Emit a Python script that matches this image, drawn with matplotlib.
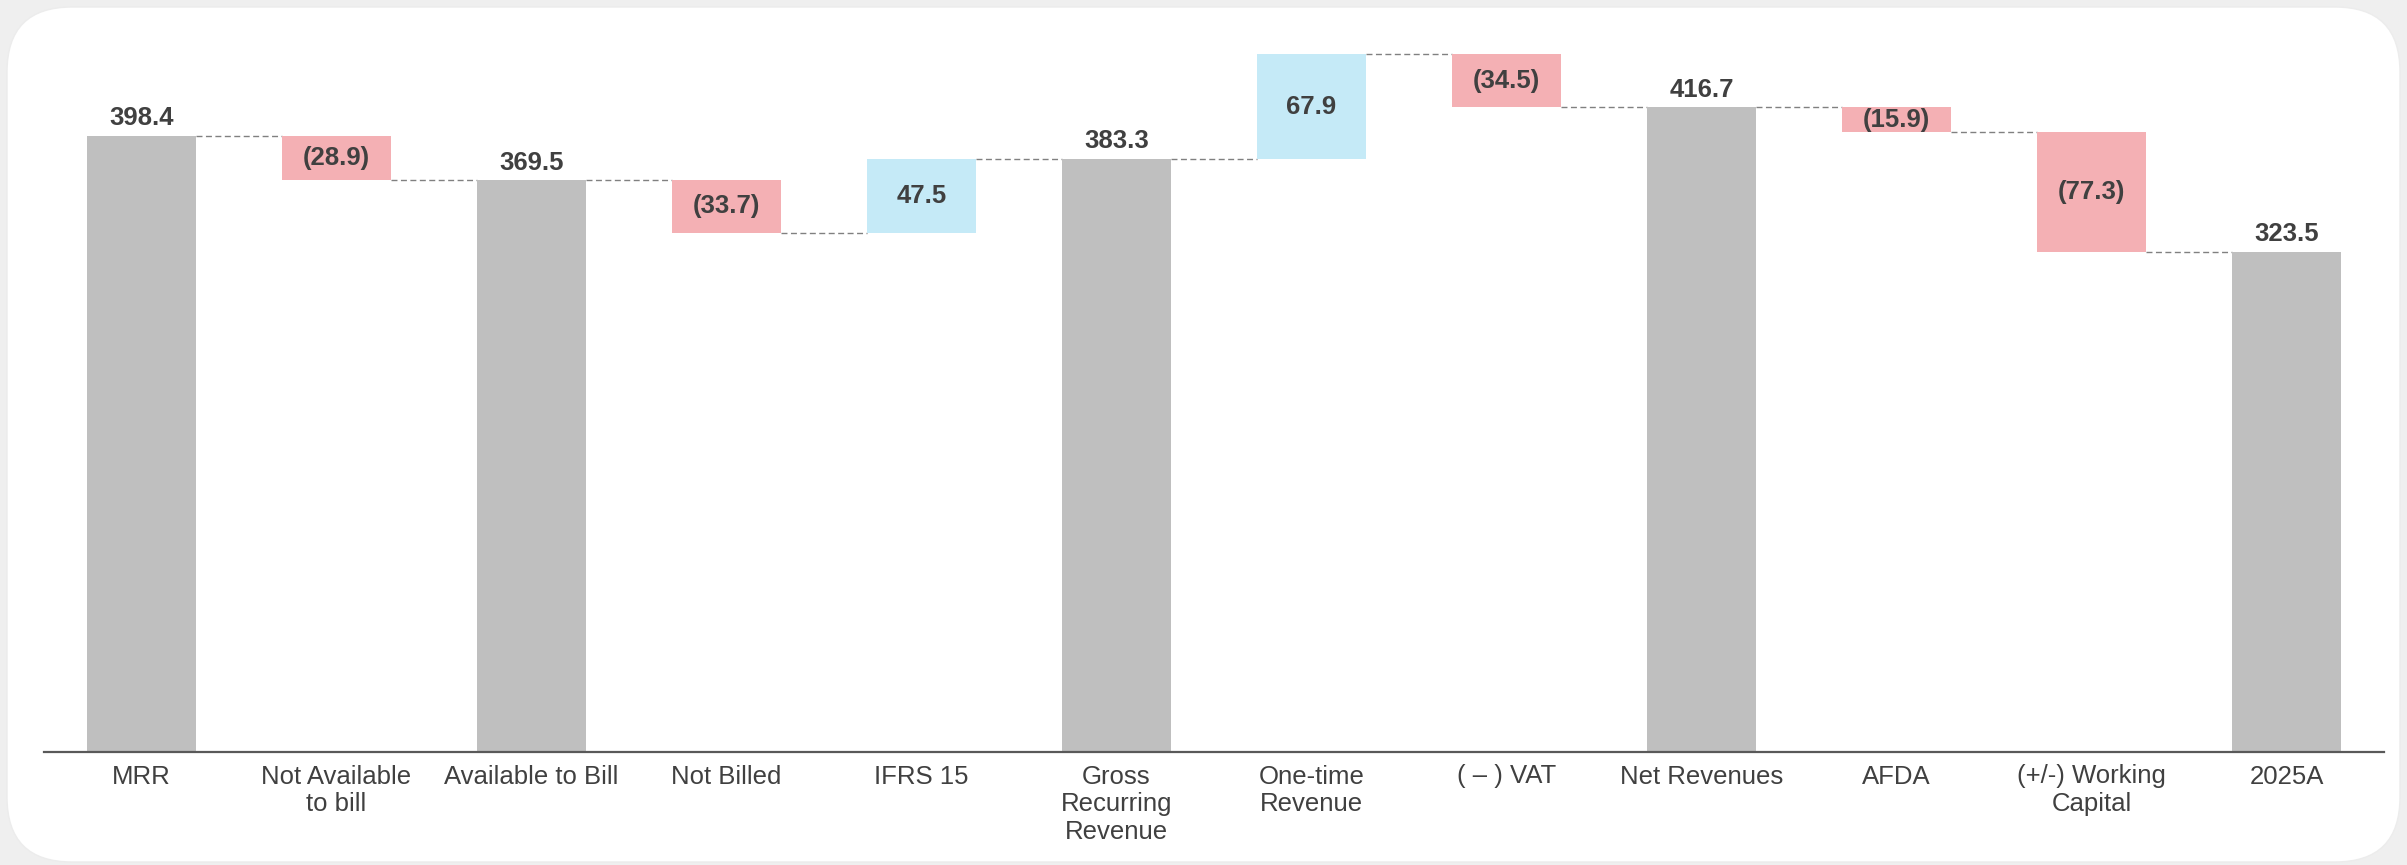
import matplotlib
matplotlib.use("Agg")
import matplotlib.pyplot as plt
from matplotlib.patches import FancyBboxPatch

plt.rcParams["font.family"] = ["Liberation Sans", "DejaVu Sans"]

# данные водопада
categories = ["MRR", "Not Available\nto bill", "Available to Bill", "Not Billed",
              "IFRS 15", "Gross\nRecurring\nRevenue", "One-time\nRevenue",
              "( \u2013 ) VAT", "Net Revenues", "AFDA", "(+/-) Working\nCapital", "2025A"]
values = [398.4, -28.9, 369.5, -33.7, 47.5, 383.3, 67.9, -34.5, 416.7, -15.9, -77.3, 323.5]
kinds = ["total", "delta", "total", "delta", "delta", "total", "delta", "delta",
         "total", "delta", "delta", "total"]

GRAY = "#bfbfbf"
RED = "#f4b0b4"
BLUE = "#c5eaf7"
TXT = "#404040"

W, H = 2407, 865
fig = plt.figure(figsize=(W / 100, H / 100), dpi=100)
fig.patch.set_facecolor("#efefef")

# фон-карточка
bg = fig.add_axes([0, 0, 1, 1])
bg.set_xlim(0, W)
bg.set_ylim(H, 0)
bg.axis("off")
bg.add_patch(FancyBboxPatch((7, 7), 2393, 855, boxstyle="round,pad=0,rounding_size=65",
                            facecolor="white", edgecolor="#ececec", linewidth=1.0))

# основная ось: x от 44 до 2384 px, базовая линия на 752 px
ax = fig.add_axes([44 / W, (H - 752) / H, 2340 / W, (752 - 20) / H])
ax.set_facecolor("none")
ax.set_xlim(-0.5, 11.5)
ax.set_ylim(0, 732 / 1.547)

bw = 0.56
level = 0.0
ends = []
for i, (v, k) in enumerate(zip(values, kinds)):
    if k == "total":
        ax.bar(i, v, width=bw, color=GRAY, zorder=2)
        ax.annotate(f"{v:.1f}", (i, v), xytext=(0, 4), textcoords="offset points",
                    ha="center", va="bottom", fontsize=18.5, fontweight="bold", color=TXT)
        level = v
    else:
        start = level
        level = start + v
        bottom = min(start, level)
        ax.bar(i, abs(v), bottom=bottom, width=bw, color=RED if v < 0 else BLUE, zorder=2)
        lab = f"({abs(v):.1f})" if v < 0 else f"{v:.1f}"
        ax.text(i, (start + level) / 2, lab, ha="center", va="center",
                fontsize=18.5, fontweight="bold", color=TXT, zorder=3)
    ends.append(level)

# пунктирные соединители
for i in range(len(values) - 1):
    ax.plot([i + bw / 2, i + 1 - bw / 2], [ends[i], ends[i]], color="#808080",
            lw=1.0, linestyle=(0, (4.3, 2.5)), zorder=1)

for s in ["top", "right", "left"]:
    ax.spines[s].set_visible(False)
ax.spines["bottom"].set_color("#595959")
ax.spines["bottom"].set_linewidth(1.6)
ax.set_yticks([])
ax.set_xticks(range(len(categories)))
ax.set_xticklabels(categories, fontsize=18.5, color=TXT, linespacing=1.2)
ax.tick_params(axis="x", length=0, pad=9)

fig.savefig("out.png", dpi=100, facecolor=fig.get_facecolor())
